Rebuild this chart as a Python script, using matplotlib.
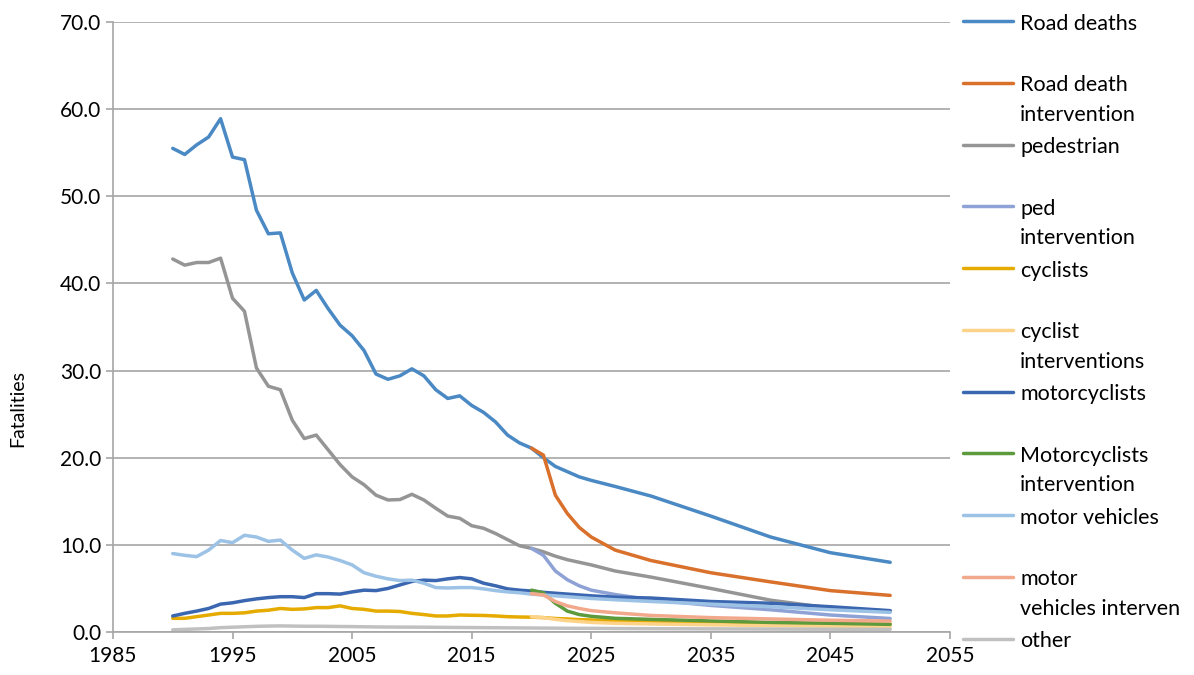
import matplotlib
matplotlib.use("Agg")
import matplotlib.pyplot as plt
from matplotlib.ticker import MultipleLocator, FormatStrFormatter

plt.rcParams['font.family'] = ['Lato', 'DejaVu Sans']

# observed years and projection years
hist_years = list(range(1990, 2020))
proj_years = [2020, 2021, 2022, 2023, 2024, 2025, 2027, 2030, 2035, 2040, 2045, 2050]
all_years = hist_years + proj_years

road_deaths = [55.5, 54.8, 55.9, 56.8, 58.9, 54.5, 54.2, 48.4, 45.7, 45.8,
               41.2, 38.1, 39.2, 37.1, 35.2, 34.0, 32.3, 29.6, 29.0, 29.4,
               30.2, 29.4, 27.8, 26.8, 27.1, 26.0, 25.2, 24.1, 22.6, 21.7,
               21.1, 20.0, 19.0, 18.4, 17.8, 17.4, 16.7, 15.6, 13.3, 10.9, 9.1, 8.0]
pedestrian = [42.8, 42.1, 42.4, 42.4, 42.9, 38.3, 36.8, 30.3, 28.2, 27.8,
              24.3, 22.2, 22.6, 20.9, 19.2, 17.8, 16.9, 15.7, 15.15, 15.2,
              15.8, 15.15, 14.2, 13.3, 13.05, 12.2, 11.9, 11.3, 10.6, 9.9,
              9.6, 9.2, 8.7, 8.3, 8.0, 7.7, 7.0, 6.3, 5.0, 3.65, 2.75, 2.4]
cyclists = [1.57, 1.57, 1.76, 1.95, 2.14, 2.14, 2.2, 2.4, 2.5, 2.7,
            2.6, 2.65, 2.8, 2.8, 3.0, 2.7, 2.6, 2.4, 2.4, 2.35,
            2.14, 2.0, 1.84, 1.84, 1.95, 1.92, 1.9, 1.84, 1.76, 1.72,
            1.7, 1.65, 1.55, 1.5, 1.42, 1.38, 1.3, 1.25, 1.15, 1.05, 0.97, 0.9]
motorcyclists = [1.84, 2.14, 2.4, 2.7, 3.2, 3.35, 3.6, 3.8, 3.95, 4.05,
                 4.05, 3.95, 4.4, 4.4, 4.35, 4.6, 4.8, 4.75, 5.0, 5.4,
                 5.8, 5.95, 5.9, 6.1, 6.25, 6.1, 5.6, 5.3, 4.95, 4.8,
                 4.7, 4.55, 4.45, 4.35, 4.25, 4.15, 4.0, 3.9, 3.5, 3.3, 2.9, 2.45]
motor_vehicles = [9.0, 8.8, 8.65, 9.4, 10.5, 10.25, 11.1, 10.9, 10.4, 10.55,
                  9.4, 8.45, 8.85, 8.6, 8.2, 7.7, 6.8, 6.4, 6.1, 5.9,
                  5.95, 5.6, 5.1, 5.05, 5.1, 5.1, 4.95, 4.75, 4.6, 4.5,
                  4.35, 4.25, 4.15, 4.05, 3.95, 3.85, 3.7, 3.5, 3.2, 2.9, 2.55, 2.25]
other = [0.25, 0.3, 0.35, 0.4, 0.5, 0.55, 0.6, 0.65, 0.68, 0.7,
         0.68, 0.66, 0.66, 0.65, 0.63, 0.62, 0.6, 0.58, 0.57, 0.56,
         0.56, 0.55, 0.54, 0.53, 0.52, 0.51, 0.5, 0.49, 0.48, 0.47,
         0.46, 0.45, 0.44, 0.43, 0.42, 0.42, 0.4, 0.38, 0.36, 0.34, 0.32, 0.3]

# intervention scenarios, 2020 onwards
road_death_int = [21.1, 20.3, 15.7, 13.6, 12.0, 10.9, 9.4, 8.2, 6.8, 5.75, 4.75, 4.2]
ped_int = [9.6, 8.8, 7.0, 6.0, 5.3, 4.8, 4.3, 3.7, 3.05, 2.55, 1.95, 1.55]
cyclist_int = [1.75, 1.65, 1.45, 1.3, 1.2, 1.1, 1.0, 0.92, 0.82, 0.74, 0.67, 0.61]
motorcyclist_int = [4.8, 4.5, 3.3, 2.4, 2.0, 1.8, 1.57, 1.45, 1.27, 1.1, 1.0, 0.88]
motor_vehicle_int = [4.4, 4.25, 3.5, 3.0, 2.7, 2.45, 2.2, 1.9, 1.65, 1.5, 1.35, 1.25]

x_ticks = [1985, 1995, 2005, 2015, 2025, 2035, 2045, 2055]

series = [
    ("Road deaths", all_years, road_deaths, "#4a89c4"),
    ("Road death\nintervention", proj_years, road_death_int, "#d9702c"),
    ("pedestrian", all_years, pedestrian, "#959595"),
    ("ped\nintervention", proj_years, ped_int, "#8ea2d6"),
    ("cyclists", all_years, cyclists, "#e5ab00"),
    ("cyclist\ninterventions", proj_years, cyclist_int, "#fdd38a"),
    ("motorcyclists", all_years, motorcyclists, "#3b66b0"),
    ("Motorcyclists\nintervention", proj_years, motorcyclist_int, "#5d9a3d"),
    ("motor vehicles", all_years, motor_vehicles, "#9cc2e6"),
    ("motor\nvehicles interven", proj_years, motor_vehicle_int, "#f2a88b"),
    ("other", all_years, other, "#c0c0c0"),
]

fig = plt.figure(figsize=(11.94, 6.75), dpi=100)
ax = fig.add_axes([0.0946, 0.0637, 0.701, 0.9037])

for i, (label, xs, ys, color) in enumerate(series):
    # pad single-line labels so every legend entry takes two rows
    if "\n" not in label and i < len(series) - 1:
        label = label + "\n "
    ax.plot(xs, ys, color=color, lw=2.5, label=label,
            solid_joinstyle="round", solid_capstyle="round")

ax.set_xlim(1985, 2055)
ax.set_ylim(0, 70)
ax.set_xticks(x_ticks)
ax.yaxis.set_major_locator(MultipleLocator(10))
ax.yaxis.set_major_formatter(FormatStrFormatter("%.1f"))
ax.grid(axis="y", color="#a6a6a6", lw=1.2)
ax.set_axisbelow(True)
for side in ("top", "right"):
    ax.spines[side].set_visible(False)
for side in ("left", "bottom"):
    ax.spines[side].set_color("#a6a6a6")
    ax.spines[side].set_linewidth(1.2)
ax.tick_params(axis="both", colors="#a6a6a6", labelcolor="#000000",
               labelsize=15, length=5, width=1.2)
ax.tick_params(axis="x", pad=5)
ax.set_ylabel("Fatalities", fontsize=14)
ax.yaxis.set_label_coords(-0.104, 0.367)

leg = ax.legend(loc="upper left", bbox_to_anchor=(1.005, 1.028), frameon=False,
                fontsize=15.5, handlelength=2.35, handletextpad=0.32,
                labelspacing=0.58, borderaxespad=0)
for t in leg.get_texts():
    t.set_linespacing(1.58)
# put each legend line level with the first row of its label
for col in leg._legend_handle_box.get_children():
    for item in col.get_children():
        item.align = "top"

fig.savefig("out.png", dpi=100)
